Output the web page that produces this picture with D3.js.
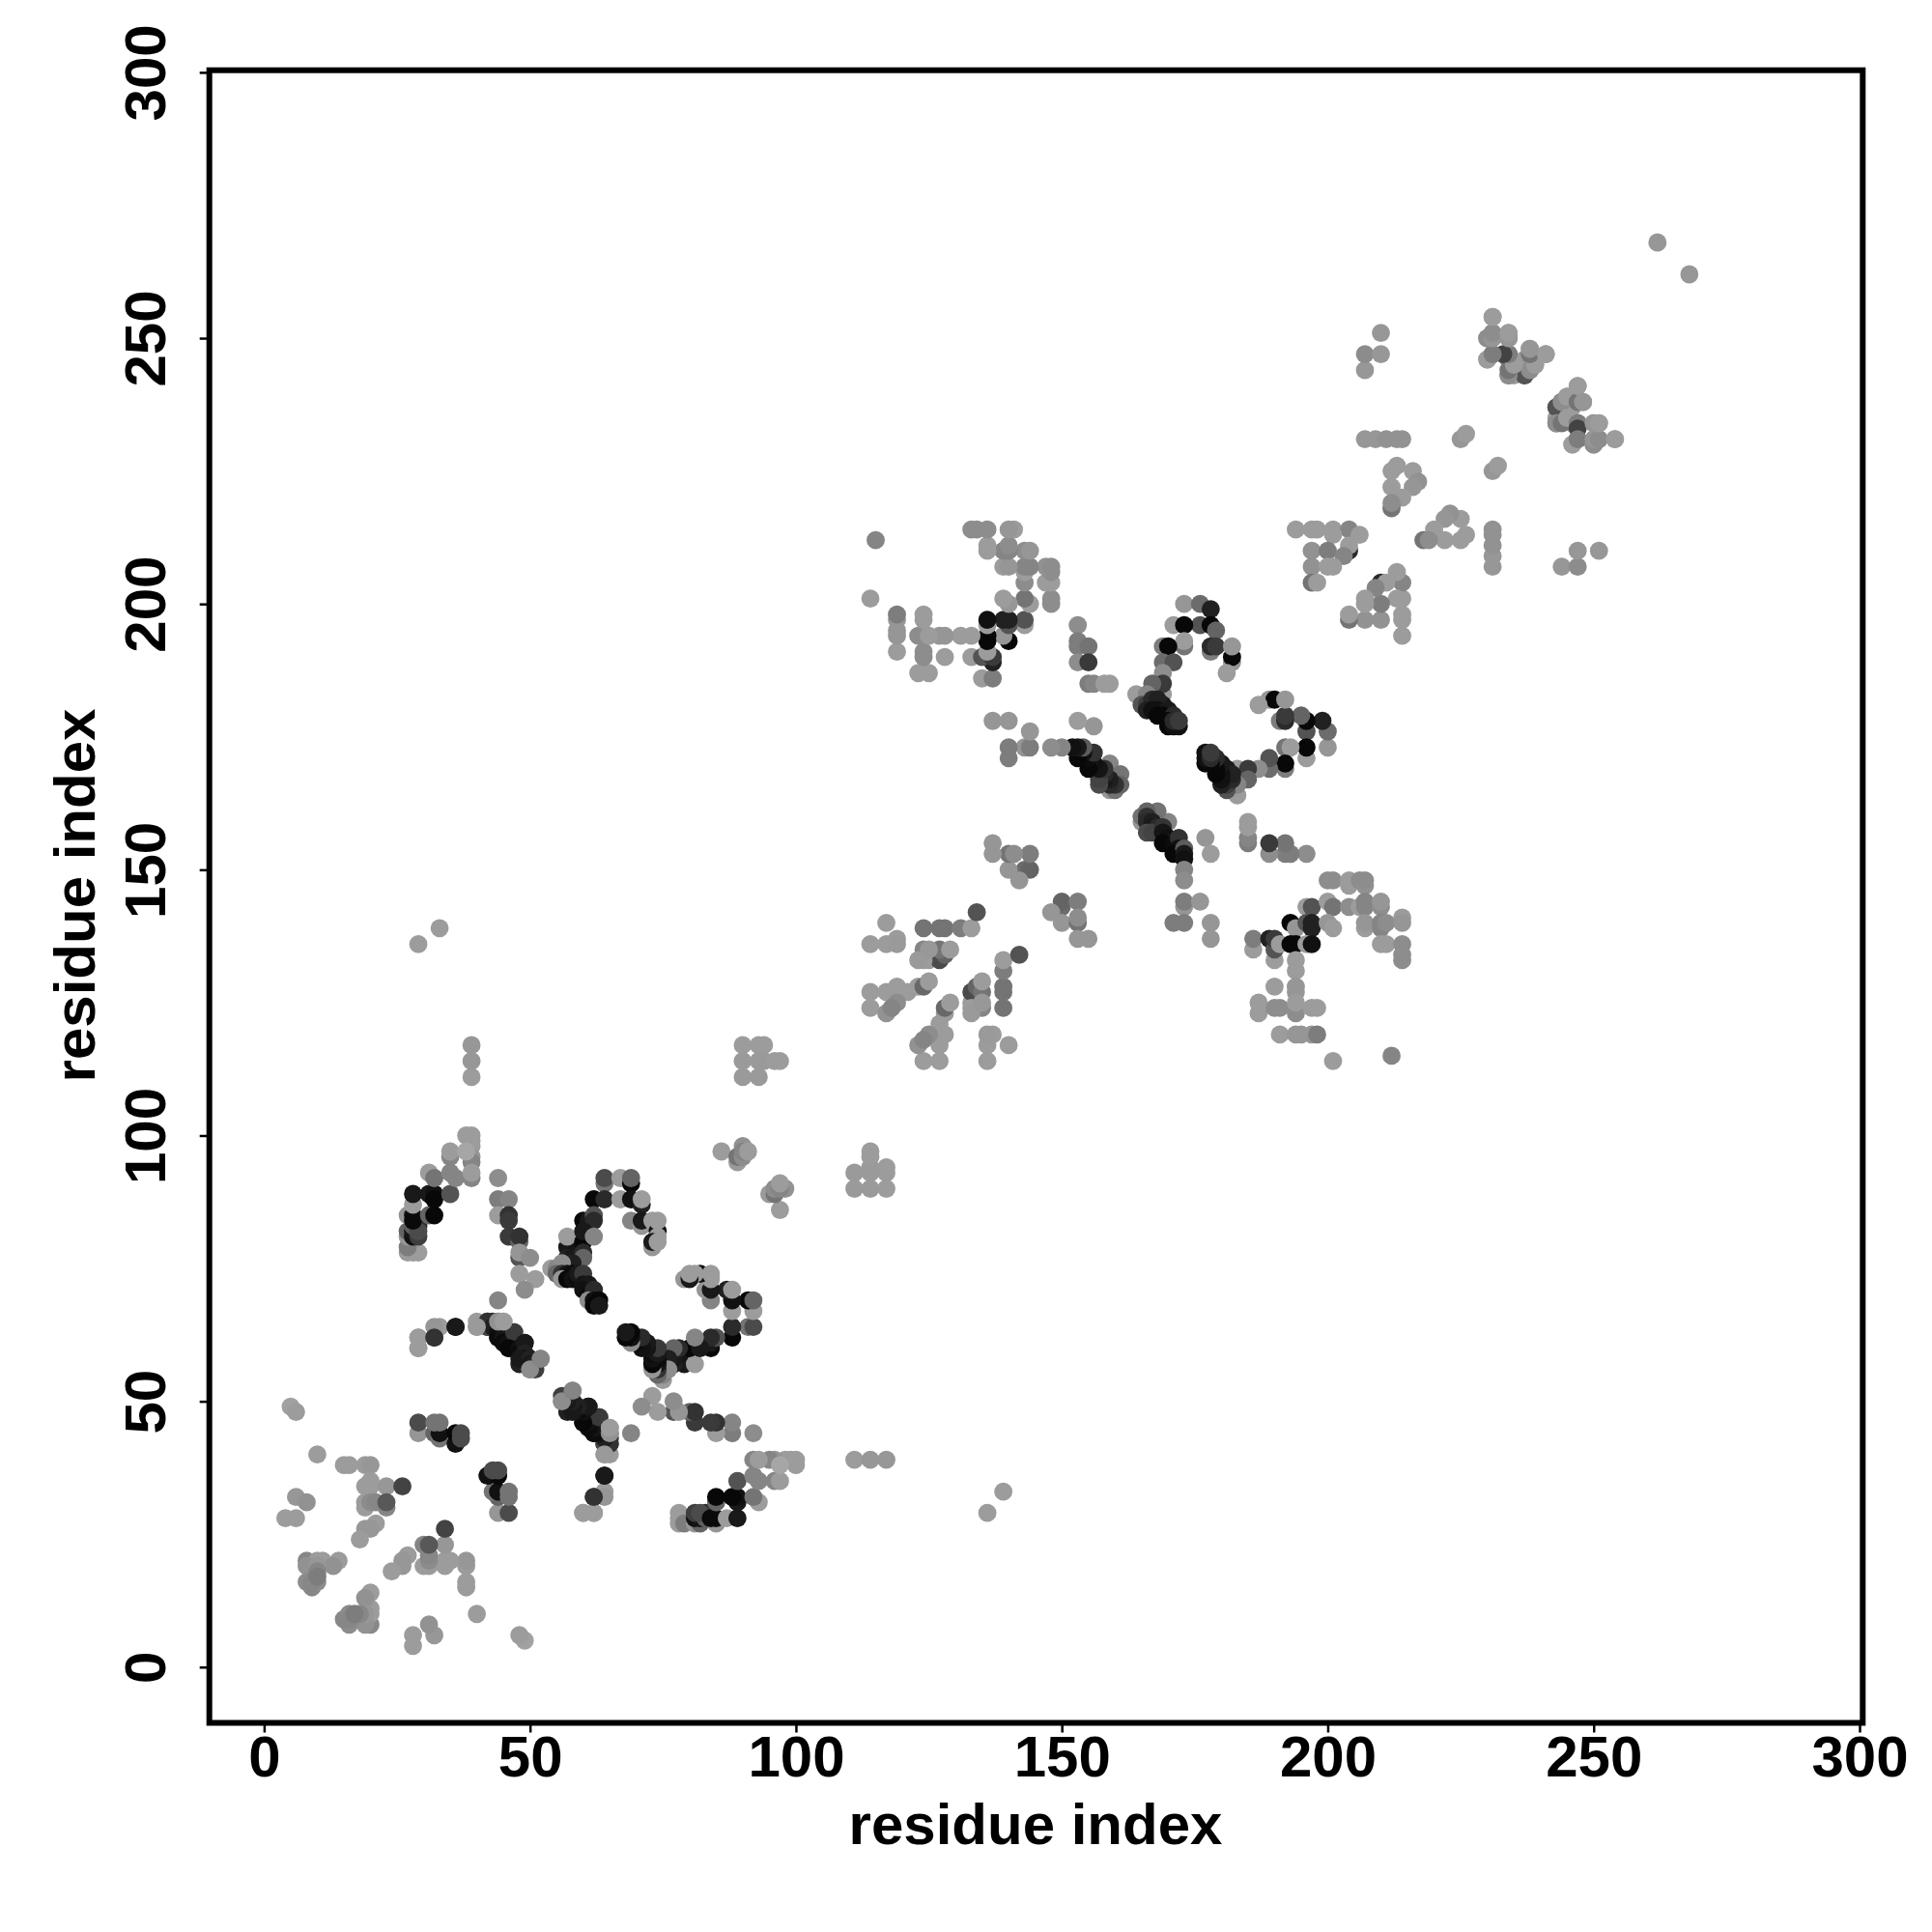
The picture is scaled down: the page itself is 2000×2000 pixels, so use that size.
<!DOCTYPE html>
<html><head><meta charset="utf-8">
<script src="https://cdn.jsdelivr.net/npm/d3@7"></script>
<style>html,body{margin:0;background:#fff}svg{display:block}text{font-family:"Liberation Sans",Arial,sans-serif;font-weight:700;fill:#000}</style>
</head><body><svg id="c" width="2000" height="2000"></svg>
<script>
// Each contact: [residue i, residue j, grey level]; the map is symmetric, so one half is listed.
const tickValues=[0,50,100,150,200,250,300];
const axisTitle="residue index";
const lowBlock=[[5,49,155],[6,48,150],[10,40,150],[15,38,150],[16,38,150],[19,38,150],[20,38,145],[19,34,150],[20,34,150],[20,35,150],[23,34,145],[19,31,150],[19,30,150],[20,31,135],[21,31,130],[23,30,128],[23,31,85],[26,34,64],[6,32,145],[8,31,140],[4,28,150],[6,28,150],[21,27,150],[20,26,145],[19,26,145],[18,24,150],[8,20,130],[10,20,150],[11,20,150],[14,20,150],[13,19,140],[8,19,140],[10,19,145],[10,18,130],[8,16,135],[9,15,130],[10,16,135],[9,16,130],[10,17,120],[29,136,150],[33,139,150],[39,111,150],[39,114,145],[39,117,145],[262,268,145]];
const clusterA=[[27,78,150],[28,78,150],[29,78,150],[27,79,120],[27,81,144],[27,82,96],[28,81,16],[28,82,20],[29,81,60],[29,83,40],[28,83,90],[27,85,144],[29,82,72],[28,85,16],[28,84,10],[28,87,150],[28,89,24],[31,85,96],[32,85,8],[31,89,24],[32,89,16],[32,88,8],[31,93,150],[32,92,112],[35,89,80],[35,96,128],[35,97,150],[35,93,128],[36,92,128],[38,100,150],[39,100,150],[39,99,150],[39,98,150],[39,96,144],[39,95,128],[38,97,160],[39,92,128],[39,93,150]];
const clusterB=[[44,92,136],[44,88,120],[46,88,128],[44,85,150],[46,85,48],[46,84,56],[46,81,56],[48,80,96],[48,81,48],[48,77,80],[48,78,144],[50,77,136],[48,74,150],[51,73,150],[49,71,136],[44,69,128]];
const clusterC=[[64,91,112],[64,92,72],[67,92,150],[69,91,8],[69,92,96],[62,88,8],[64,88,40],[67,88,150],[69,88,16],[71,87,32],[71,88,150],[60,84,8],[61,84,24],[62,85,80],[62,84,40],[69,84,128],[71,83,144],[71,84,24],[73,84,150],[74,82,16],[74,84,150],[74,81,150],[73,79,144],[73,80,24],[74,80,150],[58,78,16],[57,79,24],[59,79,20],[57,81,150],[60,80,8],[60,82,24],[62,81,128],[57,77,32],[58,77,24],[60,78,40],[60,77,96],[56,75,60],[57,75,24],[58,75,16],[58,76,30],[54,75,150],[55,75,128],[56,76,136],[55,74,100],[56,74,50],[57,74,20],[58,74,12],[56,73,144],[57,73,8],[58,73,16],[59,73,12],[59,74,24],[60,74,56],[60,72,20],[61,72,24],[60,71,16],[61,70,12],[62,70,30],[62,71,40],[61,69,136],[62,69,16],[63,69,8],[62,68,8],[63,68,24]];
const strips=[[56,50,128],[57,50,40],[57,48,32],[58,49,24],[58,50,36],[58,52,136],[59,48,16],[60,48,8],[60,47,12],[61,49,40],[61,47,20],[60,46,8],[62,46,16],[63,47,64],[63,45,24],[62,44,16],[63,44,12],[64,44,28],[64,43,20],[65,43,50],[65,44,80],[65,42,56],[64,42,24],[64,40,144],[65,40,150],[65,45,150],[60,29,150],[62,29,150],[62,32,48],[64,33,150],[64,32,144],[64,36,24],[42,64,64],[42,65,48],[43,64,30],[44,63,16],[44,62,12],[45,62,20],[45,61,12],[46,61,16],[47,61,28],[47,60,12],[47,63,56],[46,60,8],[48,60,16],[48,59,12],[49,61,24],[49,59,32],[49,58,16],[48,58,24],[50,58,32],[50,57,24],[51,57,32],[51,56,60],[50,56,136],[52,58,128],[44,65,140],[45,65,150],[40,64,148],[29,60,150],[29,62,150],[32,62,48],[36,64,24]];
const clusterI=[[29,44,144],[29,46,72],[32,44,96],[33,43,112],[33,44,16],[32,46,112],[33,46,112],[36,42,16],[36,44,8],[37,44,72],[37,43,72]];
const clusterM=[[90,117,150],[93,117,150],[94,117,150],[90,114,148],[93,114,148],[94,114,148],[96,114,150],[97,114,150],[90,111,148],[93,111,148],[86,97,150],[89,95,148],[89,96,112],[90,96,136],[90,98,140],[90,97,128],[91,97,150]];
const clusterN=[[117,140,150],[114,136,150],[117,136,150],[119,137,150],[119,136,148],[124,139,112],[127,139,112],[128,139,112],[131,139,120],[133,139,150],[134,142,80],[124,134,152],[124,135,128],[125,133,150],[127,133,72],[128,134,96],[127,135,112],[129,135,150],[114,127,150],[117,127,150],[119,128,150],[121,127,150],[114,124,150],[117,123,140],[119,125,136],[118,124,128],[123,128,150],[124,128,100],[125,129,150],[124,133,150],[123,133,148],[125,135,146]];
const clusterP=[[150,143,104],[150,144,96],[153,144,120],[148,142,144],[150,140,144],[153,140,112],[153,141,136],[153,137,144],[155,137,144],[173,143,144],[173,144,120],[176,144,144],[171,140,120],[173,140,120],[178,140,144],[178,137,144]];
const strip160=[[165,159,144],[165,160,110],[167,160,128],[168,160,128],[170,159,128],[168,161,112],[166,161,96],[166,160,48],[166,159,40],[167,159,30],[167,158,24],[168,158,40],[168,157,16],[166,157,72],[167,157,64],[169,158,50],[169,157,20],[170,156,16],[170,155,24],[169,155,8],[171,155,12],[172,156,48],[172,154,16],[172,153,20],[171,153,8],[173,154,88],[173,153,24],[173,152,16],[173,150,128],[173,148,136],[177,156,144],[178,153,150]];
const clusterU=[[153,196,136],[153,193,120],[153,192,120],[155,192,112],[153,189,136],[155,189,56],[155,185,120],[156,185,128],[158,185,150],[159,185,150]];
const clusterV=[[173,200,144],[176,200,104],[178,199,32],[176,196,80],[171,196,150],[173,196,8],[178,196,8],[179,195,96],[173,192,112],[173,193,150],[178,191,120],[178,192,40],[179,192,56],[182,189,144],[182,190,8],[182,192,144],[181,187,150],[169,192,120],[170,192,8],[169,189,104],[171,189,80],[169,187,136],[169,183,150],[169,185,56],[167,185,96],[164,183,150],[166,183,128],[165,181,80],[169,181,24],[166,181,60],[167,182,40],[168,182,32],[166,180,32],[167,180,16],[168,180,16],[170,180,24],[168,179,8],[169,179,8],[171,179,40],[170,178,8],[170,177,8],[171,177,16],[172,177,16],[171,178,40],[172,178,56]];
const clusterR=[[186,135,150],[186,137,120],[190,133,150],[189,137,32],[190,135,80],[190,137,56],[191,136,150],[193,140,8],[194,139,144],[193,136,8],[194,136,8],[196,143,150],[197,143,80],[196,140,80],[197,139,32],[197,140,32],[196,136,150],[197,136,16],[194,133,150],[194,131,150],[190,128,150],[194,127,144],[194,128,144],[187,123,150],[187,125,150],[190,124,136],[191,124,136],[194,123,136],[194,125,150],[197,124,150],[198,124,150],[191,119,150],[194,119,144],[195,119,144],[197,119,144],[198,119,120],[201,114,150],[212,115,128]];
const clusterT=[[200,148,136],[201,148,136],[204,147,150],[204,148,150],[206,148,136],[207,147,140],[207,148,136],[200,144,150],[201,143,112],[204,143,136],[206,143,150],[207,144,128],[207,143,128],[210,143,136],[210,144,144],[200,140,144],[201,139,150],[207,139,150],[207,140,144],[210,139,128],[210,140,128],[211,140,136],[214,141,150],[214,140,144],[210,136,150],[211,136,150],[214,136,136],[214,133,136],[214,134,136]];
const upperSide=[[207,231,145],[209,231,145],[211,231,140],[213,231,140],[214,231,140],[207,244,145],[207,247,135],[210,247,145],[210,251,145],[225,231,145],[226,232,150]];
const clusterW=[[231,254,145],[231,251,145],[230,250,128],[234,250,140],[234,251,150],[230,246,150],[231,247,112],[234,246,128],[234,247,72],[234,243,112],[235,243,150],[235,245,150],[237,243,112],[238,244,64],[237,246,150],[238,248,150],[239,245,150],[241,247,150],[243,237,80],[243,234,136],[244,234,112],[244,238,136],[245,239,150],[245,235,150],[247,238,112],[247,234,120],[247,233,64],[247,241,150],[248,238,144],[246,230,150],[247,231,120],[250,230,136],[250,231,144],[251,231,136],[250,234,144],[251,234,150],[254,231,150]];
const clusterX=[[213,226,150],[216,225,150],[217,223,140],[212,225,150],[212,222,150],[216,222,144],[213,220,150],[214,220,150],[212,218,112],[212,219,136],[194,214,150],[197,214,150],[198,214,150],[201,214,150],[204,214,128],[206,213,150],[201,213,150],[197,210,140],[197,207,140],[197,204,112],[198,204,150],[200,210,120],[204,210,40],[204,211,150],[203,209,128],[201,207,150],[200,207,150]];
const contacts=[].concat(lowBlock,clusterA,clusterB,clusterC,strips,clusterI,clusterM,clusterN,clusterP,strip160,clusterU,clusterV,clusterR,clusterT,upperSide,clusterW,clusterX);

const svg=d3.select("#c");
const x=d3.scaleLinear().domain([-10.3,300.6]).range([216.7,1928.3]);
const y=d3.scaleLinear().domain([-10.4,300.4]).range([1783,72.7]);
const grey=d3.scaleLinear().domain([0,150]).range([0,156]).clamp(false);
const g=svg.append("g");
const mirrored=contacts.flatMap(c=>[[c[0],c[1],c[2]],[c[1],c[0],c[2]]]);
g.selectAll("circle").data(mirrored).join("circle")
 .attr("cx",d=>x(d[0])).attr("cy",d=>y(d[1])).attr("r",9.4)
 .attr("fill",d=>{const v=Math.round(grey(d[2]));return d3.rgb(v,v,v).formatHex();});
svg.append("rect").attr("x",216.7).attr("y",72.7).attr("width",1711.6).attr("height",1710.8)
 .attr("fill","none").attr("stroke","#000").attr("stroke-width",6);
const ax=svg.append("g").attr("transform","translate(0,1783.5)")
 .call(d3.axisBottom(x).tickValues(tickValues).tickSize(10).tickFormat(d3.format("d")));
ax.select(".domain").remove();
ax.selectAll("line").attr("stroke","#000").attr("stroke-width",2.5);
ax.selectAll("text").attr("y",55.5).attr("dy",null).style("font-size","60px").attr("text-anchor","middle");
const ay=svg.append("g").attr("transform","translate(216.7,0)")
 .call(d3.axisLeft(y).tickValues(tickValues).tickSize(10).tickFormat(d3.format("d")));
ay.select(".domain").remove();
ay.selectAll("line").attr("stroke","#000").attr("stroke-width",2.5);
ay.selectAll("text").attr("x",null).attr("dy",null).attr("transform","translate(-46,0) rotate(-90)").style("font-size","60px").attr("text-anchor","middle");
svg.append("text").attr("x",1072).attr("y",1909).attr("text-anchor","middle").style("font-size","60px").text(axisTitle);
svg.append("text").attr("transform","translate(98,927) rotate(-90)").attr("text-anchor","middle").style("font-size","60px").text(axisTitle);
</script></body></html>
